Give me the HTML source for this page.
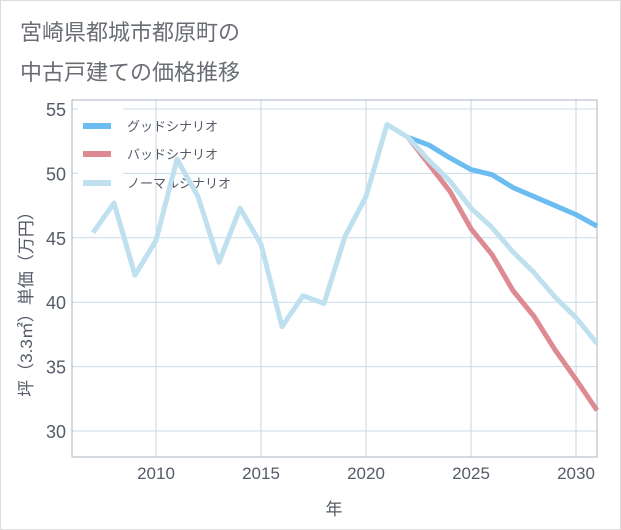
<!DOCTYPE html>
<html><head><meta charset="utf-8"><style>
body{margin:0;background:#fff;}
#wrap{position:relative;width:621px;height:530px;box-sizing:border-box;border:1px solid #ddd;background:#fff;font-family:"Liberation Sans","Noto Sans CJK JP",sans-serif;}
.t{position:absolute;left:19px;font-size:22px;color:#6a6e74;}
</style></head><body>
<div id="wrap">
<div class="t" style="top:14px">宮崎県都城市都原町の</div>
<div class="t" style="top:54px">中古戸建ての価格推移</div>
<svg id="chart" width="621" height="530" style="position:absolute;left:-1px;top:-1px"></svg>
</div>
<script>
const years=[2007,2008,2009,2010,2011,2012,2013,2014,2015,2016,2017,2018,2019,2020,2021,2022,2023,2024,2025,2026,2027,2028,2029,2030,2031];
const normal=[45.4,47.7,42.1,44.8,51.1,48.2,43.1,47.3,44.5,38.1,40.5,39.9,45.1,48.2,53.8,52.8,51.0,49.4,47.3,45.8,43.9,42.3,40.4,38.8,36.8];
const goodYears=[2022,2023,2024,2025,2026,2027,2028,2029,2030,2031];
const good=[52.8,52.2,51.2,50.3,49.9,48.9,48.2,47.5,46.8,45.9];
const bad=[52.8,50.7,48.6,45.7,43.7,40.9,38.9,36.3,34.0,31.6];
const xTicks=[2010,2015,2020,2025,2030];
const yTicks=[30,35,40,45,50,55];
const L=72,R=597,T=100,B=457;
const x=v=>156+(v-2010)*21;
const y=v=>109+(55-v)*12.88;
const NS='http://www.w3.org/2000/svg';
const svg=document.getElementById('chart');
function mk(tag,attrs){const e=document.createElementNS(NS,tag);for(const k in attrs)e.setAttribute(k,attrs[k]);svg.appendChild(e);return e;}
yTicks.forEach(v=>{
 const g=mk('line',{x1:L,x2:R,y1:y(v),y2:y(v),stroke:'#c8dbe8','stroke-width':1});
 
 
 const t=mk('text',{x:L-6,y:y(v)+7,'text-anchor':'end','font-size':18,fill:'#555b66','font-family':'Liberation Sans,sans-serif'});
 t.textContent=v;
 
 
});
xTicks.forEach(v=>{
 const g=mk('line',{x1:x(v),x2:x(v),y1:T,y2:B,stroke:'#c8d6e0','stroke-width':1});
 
 
 const t=mk('text',{x:x(v),y:B+22,'text-anchor':'middle','font-size':17,fill:'#555b66','font-family':'Liberation Sans,sans-serif'});
 t.textContent=v;
 
 
});
const frame=mk('rect',{x:L,y:T,width:R-L,height:B-T,fill:'none',stroke:'#a9b4bf','stroke-width':1});


const lg=mk('rect',{x:78,y:108,width:45,height:92,fill:'#fff'});


[['グッドシナリオ','#6bbcf0',126],['バッドシナリオ','#dd8a92',154],['ノーマルシナリオ','#bfe0ee',183]].forEach(([lab,c,yy])=>{
 const s=mk('line',{x1:83,x2:111,y1:yy,y2:yy,stroke:c,'stroke-width':6});
 
 
 const t=mk('text',{x:127,y:yy+5,'font-size':13,fill:'#555b66','font-family':'Liberation Sans,Noto Sans CJK JP,sans-serif'});
 t.textContent=lab;
 
 
});
function line(xs,vs,color,name){
 const p=mk('polyline',{points:xs.map((yr,i)=>x(yr)+','+y(vs[i])).join(' '),fill:'none',stroke:color,'stroke-width':5,'stroke-linejoin':'round'});
 
 
}
line(goodYears,good,'#6bbcf0','good-scenario-line');
line(goodYears,bad,'#dd8a92','bad-scenario-line');
line(years,normal,'#bfe0ee','normal-scenario-line');
const xt=mk('text',{x:334,y:515,'text-anchor':'middle','font-size':17,fill:'#555b66','font-family':'Liberation Sans,Noto Sans CJK JP,sans-serif'});
xt.textContent='年';


const yt=mk('text',{x:0,y:0,'text-anchor':'middle','font-size':17,fill:'#555b66','font-family':'Liberation Sans,Noto Sans CJK JP,sans-serif',transform:'translate(32,300) rotate(-90)'});
yt.textContent='坪（3.3㎡）単価（万円）';


</script>
</body></html>
